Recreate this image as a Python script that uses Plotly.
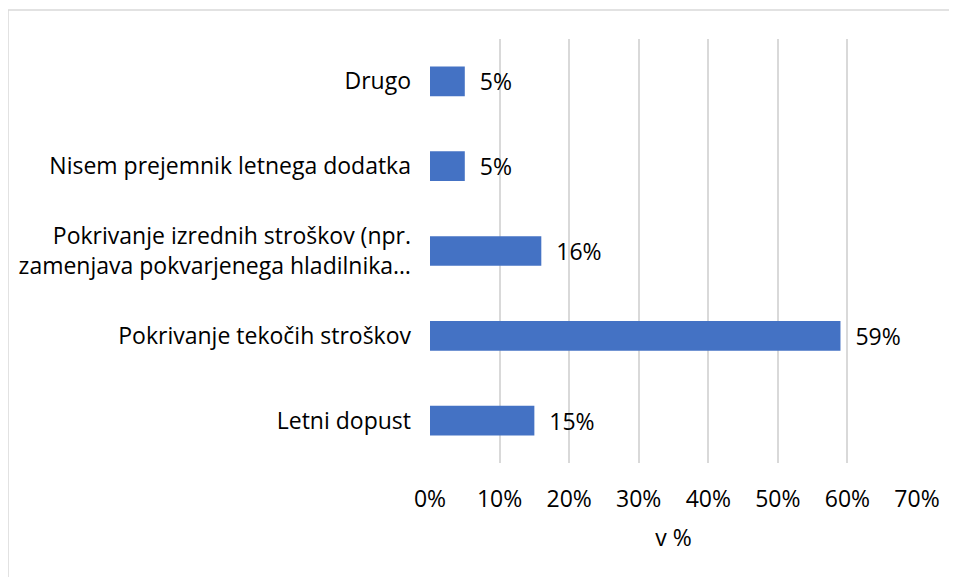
import plotly.graph_objects as go

categories = [
    "Letni dopust",
    "Pokrivanje tekočih stroškov",
    "Pokrivanje izrednih stroškov (npr.<br>zamenjava pokvarjenega hladilnika…",
    "Nisem prejemnik letnega dodatka",
    "Drugo",
]
values = [15, 59, 16, 5, 5]
tick_vals = [0, 10, 20, 30, 40, 50, 60, 70]
tick_text = ["0%", "10%", "20%", "30%", "40%", "50%", "60%", "70%"]

FONT = "Open Sans, sans-serif"
FS = 23

OFF = 8  # page body margin
W, H = 957 - OFF, 577 - OFF
PL, PR, PT, PB = 430, 917, 39, 463  # target plot area in window pixels
L = PL - OFF
T = PT - OFF
R = W + OFF - PR
B = H + OFF - PB
pw, ph = PR - PL, PB - PT

fig = go.Figure()
fig.add_trace(go.Bar(
    y=categories,
    x=values,
    orientation="h",
    marker=dict(color="#4472C4", line=dict(width=0)),
    width=0.35,
    text=values,
    texttemplate="  %{x}%",
    textposition="outside",
    constraintext="none",
    cliponaxis=False,
    textfont=dict(family=FONT, size=FS, color="#000000"),
))

def px_x(p):
    return (p - PL) / pw

def px_y(p):
    return (PB - p) / ph

fig.update_layout(
    width=W, height=H,
    margin=dict(l=L, r=R, t=T, b=B, autoexpand=False),
    paper_bgcolor="white",
    plot_bgcolor="white",
    showlegend=False,
    font=dict(family=FONT, size=FS, color="#000000"),
    xaxis=dict(
        range=[0, 70],
        tickvals=tick_vals,
        ticktext=tick_text,
        showgrid=True,
        gridcolor="#D9D9D9",
        gridwidth=1.5,
        zeroline=False,
        showline=False,
        ticks="",
        automargin=False,
        ticklabelstandoff=20,
        title=dict(text="v %", standoff=16, font=dict(family=FONT, size=FS)),
        tickfont=dict(family=FONT, size=FS),
    ),
    yaxis=dict(
        showgrid=False,
        zeroline=False,
        showline=False,
        ticks="",
        automargin=False,
        ticklabelstandoff=18,
        tickfont=dict(family=FONT, size=FS),
    ),
    shapes=[dict(
        type="rect", xref="paper", yref="paper",
        x0=px_x(8), x1=px_x(962), y0=px_y(582), y1=px_y(10),
        line=dict(color="#D9D9D9", width=1.5),
        fillcolor="rgba(0,0,0,0)",
        layer="below",
    )],
)

fig.write_html("out.html")
